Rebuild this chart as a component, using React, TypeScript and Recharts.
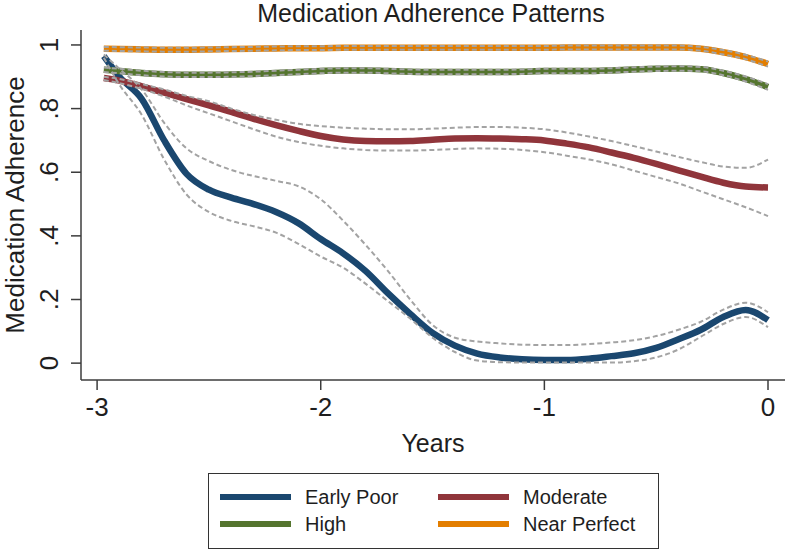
import { LineChart, Line, XAxis, YAxis, Legend, Label } from "recharts";

// years since start of follow-up (x grid shared by all series)
const years = [
  -2.97, -2.9, -2.8, -2.7, -2.6, -2.5, -2.4, -2.3, -2.2, -2.1, -2.0, -1.9, -1.8,
  -1.7, -1.6, -1.5, -1.4, -1.3, -1.2, -1.1, -1.0, -0.9, -0.8, -0.7, -0.6, -0.5,
  -0.4, -0.3, -0.2, -0.1, 0,
];

const earlyPoor = [
  0.965, 0.9, 0.83, 0.7, 0.595, 0.545, 0.52, 0.5, 0.475, 0.44, 0.39, 0.345, 0.29,
  0.22, 0.155, 0.095, 0.055, 0.03, 0.018, 0.012, 0.01, 0.01, 0.014, 0.022, 0.031,
  0.048, 0.075, 0.105, 0.145, 0.167, 0.135,
];
const earlyPoorHi = [
  0.97, 0.925, 0.86, 0.755, 0.675, 0.635, 0.607, 0.588, 0.573, 0.556, 0.515, 0.448,
  0.372, 0.29, 0.2, 0.12, 0.08, 0.068, 0.062, 0.058, 0.057, 0.057, 0.06, 0.065,
  0.072, 0.085, 0.105, 0.13, 0.168, 0.19, 0.16,
];
const earlyPoorLo = [
  0.96, 0.875, 0.78, 0.64, 0.53, 0.475, 0.447, 0.43, 0.41, 0.375, 0.335, 0.3, 0.25,
  0.195, 0.14, 0.08, 0.035, 0.008, 0.003, 0.002, 0.002, 0.002, 0.002, 0.002, 0.006,
  0.018, 0.043, 0.083, 0.123, 0.145, 0.113,
];

const moderate = [
  0.896, 0.888, 0.87, 0.85, 0.83, 0.81, 0.79, 0.768, 0.748, 0.73, 0.714, 0.703,
  0.698, 0.697, 0.698, 0.702, 0.706, 0.707, 0.706, 0.704, 0.7, 0.69, 0.678, 0.662,
  0.645, 0.626, 0.606, 0.586, 0.567, 0.555, 0.552,
];
const moderateHi = [
  0.9, 0.893, 0.877, 0.86, 0.84, 0.823, 0.8, 0.78, 0.765, 0.752, 0.745, 0.74, 0.737,
  0.735, 0.735, 0.737, 0.74, 0.742, 0.742, 0.74, 0.735, 0.725, 0.712, 0.698, 0.682,
  0.665, 0.648, 0.632, 0.618, 0.614, 0.64,
];
const moderateLo = [
  0.89, 0.88, 0.862, 0.838, 0.81, 0.785, 0.76, 0.735, 0.712, 0.695, 0.683, 0.675,
  0.67, 0.668, 0.668, 0.67, 0.673, 0.675, 0.674, 0.67, 0.663, 0.652, 0.64, 0.625,
  0.605, 0.585, 0.565, 0.54, 0.515, 0.49, 0.462,
];

const high = [
  0.922, 0.918, 0.912, 0.908, 0.906, 0.906, 0.907, 0.909, 0.912, 0.915, 0.918, 0.92,
  0.92, 0.918, 0.916, 0.915, 0.915, 0.915, 0.915, 0.916, 0.918, 0.918, 0.918, 0.92,
  0.923, 0.925, 0.926, 0.924, 0.912, 0.893, 0.868,
];
const highHi = [
  0.929, 0.925, 0.919, 0.915, 0.913, 0.913, 0.914, 0.916, 0.919, 0.922, 0.925,
  0.927, 0.927, 0.925, 0.923, 0.922, 0.922, 0.922, 0.922, 0.923, 0.925, 0.925,
  0.925, 0.927, 0.93, 0.932, 0.933, 0.931, 0.919, 0.901, 0.877,
];
const highLo = [
  0.915, 0.911, 0.905, 0.901, 0.899, 0.899, 0.9, 0.902, 0.905, 0.908, 0.911, 0.913,
  0.913, 0.911, 0.909, 0.908, 0.908, 0.908, 0.908, 0.909, 0.911, 0.911, 0.911,
  0.913, 0.916, 0.918, 0.919, 0.917, 0.905, 0.885, 0.859,
];

const nearPerfect = [
  0.988, 0.987, 0.986, 0.985, 0.985, 0.986, 0.987, 0.988, 0.989, 0.99, 0.99, 0.991,
  0.991, 0.991, 0.991, 0.991, 0.991, 0.991, 0.991, 0.991, 0.991, 0.992, 0.992,
  0.992, 0.992, 0.992, 0.992, 0.988, 0.977, 0.962, 0.94,
];
const nearPerfectHi = [
  0.994, 0.993, 0.992, 0.991, 0.991, 0.992, 0.993, 0.994, 0.995, 0.996, 0.996,
  0.997, 0.997, 0.997, 0.997, 0.997, 0.997, 0.997, 0.997, 0.997, 0.997, 0.998,
  0.998, 0.998, 0.998, 0.998, 0.998, 0.994, 0.984, 0.969, 0.948,
];
const nearPerfectLo = [
  0.982, 0.981, 0.98, 0.979, 0.979, 0.98, 0.981, 0.982, 0.983, 0.984, 0.984, 0.985,
  0.985, 0.985, 0.985, 0.985, 0.985, 0.985, 0.985, 0.985, 0.985, 0.986, 0.986,
  0.986, 0.986, 0.986, 0.986, 0.982, 0.97, 0.955, 0.932,
];

const xTicks = [-3, -2, -1, 0];
const yTicks = [0, 0.2, 0.4, 0.6, 0.8, 1];

const data = years.map((t, i) => ({
  t,
  earlyPoor: earlyPoor[i],
  earlyPoorHi: earlyPoorHi[i],
  earlyPoorLo: earlyPoorLo[i],
  moderate: moderate[i],
  moderateHi: moderateHi[i],
  moderateLo: moderateLo[i],
  high: high[i],
  highHi: highHi[i],
  highLo: highLo[i],
  nearPerfect: nearPerfect[i],
  nearPerfectHi: nearPerfectHi[i],
  nearPerfectLo: nearPerfectLo[i],
}));

const series = [
  { key: "earlyPoor", name: "Early Poor", color: "#1a476f" },
  { key: "moderate", name: "Moderate", color: "#90353b" },
  { key: "high", name: "High", color: "#55752f" },
  { key: "nearPerfect", name: "Near Perfect", color: "#e37e00" },
];

const FONT = '"Liberation Sans", Arial, Helvetica, sans-serif';
const INK = "#1e1e1e";
const AXIS = "#3c3c3c";
const CI = "#a3a3a3";

const fmtY = (v: number) => (v === 0 ? "0" : v === 1 ? "1" : String(v).replace("0.", "."));

const YTick = (props: any) => {
  const { x, y, payload } = props;
  return (
    <text
      x={x}
      y={y}
      transform={`rotate(-90 ${x} ${y})`}
      textAnchor="middle"
      fontSize={26}
      fontFamily={FONT}
      fill={INK}
    >
      {fmtY(payload.value)}
    </text>
  );
};

const YTitle = (props: any) => {
  const vb = props.viewBox;
  const x = vb.x + 24;
  const y = vb.y + vb.height / 2;
  return (
    <text
      x={x}
      y={y}
      transform={`rotate(-90 ${x} ${y})`}
      textAnchor="middle"
      fontSize={26}
      fontFamily={FONT}
      fill={INK}
    >
      Medication Adherence
    </text>
  );
};

const XTitle = (props: any) => {
  const vb = props.viewBox;
  return (
    <text
      x={vb.x + vb.width / 2}
      y={vb.y + 72}
      textAnchor="middle"
      fontSize={25}
      fontFamily={FONT}
      fill={INK}
    >
      Years
    </text>
  );
};

// Stata-style boxed legend, 2 columns
const LegendBox = () => {
  const cols = [11, 229];
  const rows = [23, 50];
  return (
    <div
      style={{
        position: "relative",
        width: 451,
        height: 76,
        border: "1px solid #333",
        boxSizing: "border-box",
        background: "#fff",
        fontFamily: FONT,
        fontSize: 20,
        color: INK,
      }}
    >
      {series.map((s, i) => {
        const cx = cols[i % 2];
        const cy = rows[Math.floor(i / 2)];
        return (
          <div key={s.key}>
            <div
              style={{
                position: "absolute",
                left: cx,
                top: cy - 3,
                width: 71,
                height: 6,
                background: s.color,
              }}
            />
            <div
              style={{
                position: "absolute",
                left: cx + 85,
                top: cy - 14,
                height: 28,
                lineHeight: "28px",
                whiteSpace: "nowrap",
              }}
            >
              {s.name}
            </div>
          </div>
        );
      })}
    </div>
  );
};

export default function App() {
  return (
    <div
      style={{
        position: "absolute",
        left: 0,
        top: 0,
        width: 787,
        height: 551,
        background: "#fff",
        fontFamily: FONT,
      }}
    >
      <div
        style={{
          position: "absolute",
          left: 221,
          top: 0,
          width: 420,
          textAlign: "center",
          fontSize: 25,
          lineHeight: "26px",
          color: INK,
          whiteSpace: "nowrap",
        }}
      >
        Medication Adherence Patterns
      </div>
      <LineChart
        width={787}
        height={551}
        data={data}
        margin={{ top: 30, right: 2, left: 0, bottom: 91 }}
      >
        <XAxis
          dataKey="t"
          type="number"
          domain={[-3.072, 0.076]}
          ticks={xTicks}
          allowDataOverflow
          tickSize={10}
          tickMargin={8}
          height={80}
          stroke={AXIS}
          strokeWidth={1.5}
          tick={{ fontSize: 26, fontFamily: FONT, fill: INK }}
          tickFormatter={(v: number) => String(v)}
        >
          <Label content={XTitle} />
        </XAxis>
        <YAxis
          type="number"
          domain={[-0.053, 1.047]}
          ticks={yTicks}
          allowDataOverflow
          width={81}
          tickSize={10}
          tickMargin={13}
          stroke={AXIS}
          strokeWidth={1.5}
          tick={YTick}
        >
          <Label content={YTitle} />
        </YAxis>
        {series.map((s) => (
          <Line
            key={s.key}
            dataKey={s.key}
            name={s.name}
            type="monotone"
            stroke={s.color}
            strokeWidth={6.5}
            dot={false}
            activeDot={false}
            isAnimationActive={false}
          />
        ))}
        {series.flatMap((s) =>
          ["Hi", "Lo"].map((b) => (
            <Line
              key={s.key + b}
              dataKey={s.key + b}
              legendType="none"
              type="monotone"
              stroke={CI}
              strokeWidth={2}
              strokeDasharray="5 3"
              dot={false}
              activeDot={false}
              isAnimationActive={false}
            />
          ))
        )}
        <Legend
          layout="horizontal"
          verticalAlign="middle"
          align="center"
          wrapperStyle={{ left: 208, top: 473, width: 451, height: 76 }}
          content={() => <LegendBox />}
        />
      </LineChart>
    </div>
  );
}
